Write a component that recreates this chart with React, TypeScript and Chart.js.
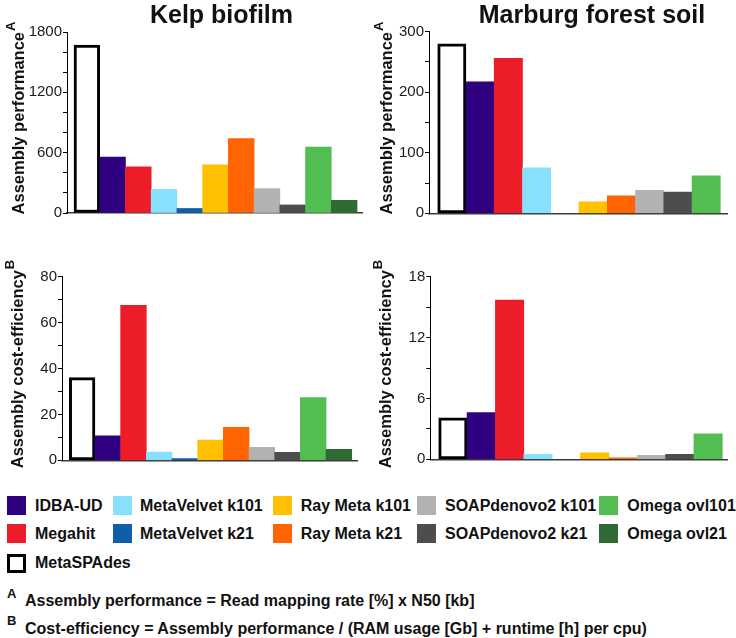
import React, { useEffect, useRef } from "react";
import { Chart, registerables } from "chart.js";

Chart.register(...registerables);

const FONT = '"Liberation Sans", Arial, Helvetica, sans-serif';

// ---------- data ----------
const assemblers = [
  "MetaSPAdes",
  "IDBA-UD",
  "Megahit",
  "MetaVelvet k101",
  "MetaVelvet k21",
  "Ray Meta k101",
  "Ray Meta k21",
  "SOAPdenovo2 k101",
  "SOAPdenovo2 k21",
  "Omega ovl101",
  "Omega ovl21",
];
const assemblerColors = [
  "#FFFFFF",
  "#2F007F",
  "#EC1C29",
  "#88E0FD",
  "#105DA8",
  "#FFC000",
  "#FF6400",
  "#B2B2B2",
  "#4D4D4D",
  "#52BD50",
  "#2E6A31",
];

const kelpPerformance = [1670, 555, 460, 235, 45, 480, 740, 242, 80, 656, 126];
const kelpCostEfficiency = [36, 10.7, 67.5, 3.6, 0.7, 8.8, 14.4, 5.7, 3.5, 27.3, 4.8];
const marburgPerformance = [280, 217, 256, 75, null, 19, 29, 38, 35, 62, null];
const marburgCostEfficiency = [4.1, 4.6, 15.7, 0.5, null, 0.65, 0.15, 0.4, 0.5, 2.5, null];

const kelpPerfTicks = [0, 600, 1200, 1800];
const kelpCostTicks = [0, 20, 40, 60, 80];
const marburgPerfTicks = [0, 100, 200, 300];
const marburgCostTicks = [0, 6, 12, 18];

const sampleTitles = ["Kelp biofilm", "Marburg forest soil"];
const performanceLabel = "Assembly performance";
const costLabel = "Assembly cost-efficiency";
const footnoteA = "Assembly performance = Read mapping rate [%] x N50 [kb]";
const footnoteB = "Cost-efficiency = Assembly performance / (RAM usage [Gb] + runtime [h] per cpu)";

// ---------- layout ----------
type Panel = {
  left: number;
  top: number;
  width: number;
  height: number;
  axisX: number;
  axisEnd: number;
  yTop: number;
  yBottom: number;
  xMin: number;
  xMax: number;
  values: (number | null)[];
  majorTicks: number[];
  minorStep: number;
  label: string;
  sup: string;
  labelX: number;
  labelY: number;
};

const panels: Panel[] = [
  {
    left: 0, top: 0, width: 368, height: 228,
    axisX: 67, axisEnd: 362, yTop: 32, yBottom: 213,
    xMin: -0.772, xMax: 10.694,
    values: kelpPerformance, majorTicks: kelpPerfTicks, minorStep: 200,
    label: performanceLabel, sup: "A", labelX: 19, labelY: 118,
  },
  {
    left: 368, top: 0, width: 368, height: 228,
    axisX: 429, axisEnd: 727, yTop: 31.7, yBottom: 213.3,
    xMin: -0.808, xMax: 9.737,
    values: marburgPerformance, majorTicks: marburgPerfTicks, minorStep: 50,
    label: performanceLabel, sup: "A", labelX: 19, labelY: 118,
  },
  {
    left: 0, top: 236, width: 368, height: 240,
    axisX: 62, axisEnd: 357, yTop: 276.7, yBottom: 460.3,
    xMin: -0.784, xMax: 10.706,
    values: kelpCostEfficiency, majorTicks: kelpCostTicks, minorStep: 10,
    label: costLabel, sup: "B", labelX: 18.5, labelY: 128,
  },
  {
    left: 368, top: 236, width: 368, height: 240,
    axisX: 430.3, axisEnd: 727, yTop: 276.7, yBottom: 459.3,
    xMin: -0.796, xMax: 9.666,
    values: marburgCostEfficiency, majorTicks: marburgCostTicks, minorStep: 3,
    label: costLabel, sup: "B", labelX: 18.5, labelY: 128,
  },
];

function PanelChart({ p }: { p: Panel }) {
  const ref = useRef<HTMLCanvasElement>(null);
  useEffect(() => {
    if (!ref.current) return;
    const labelPlugin = {
      id: "ytitleSup",
      afterDraw(chart: any) {
        const ctx = chart.ctx as CanvasRenderingContext2D;
        ctx.save();
        ctx.translate(p.labelX, p.labelY);
        ctx.rotate(-Math.PI / 2);
        ctx.fillStyle = "#111";
        ctx.textBaseline = "middle";
        ctx.textAlign = "left";
        const mainFont = `bold 16.5px ${FONT}`;
        const supFont = `bold 13px ${FONT}`;
        ctx.font = mainFont;
        const w = ctx.measureText(p.label).width;
        ctx.font = supFont;
        const sw = ctx.measureText(p.sup).width;
        const start = -(w + sw + 1) / 2;
        ctx.font = mainFont;
        ctx.fillText(p.label, start, 0);
        ctx.font = supFont;
        ctx.fillText(p.sup, start + w + 1, -8);
        ctx.restore();
      },
    };
    const yMax = p.majorTicks[p.majorTicks.length - 1];
    const chart = new Chart(ref.current, {
      type: "bar",
      data: {
        datasets: [
          {
            data: p.values.map((v, i) => ({ x: i, y: v })) as any,
            backgroundColor: assemblerColors,
            borderColor: assemblerColors.map((c, i) => (i === 0 ? "#000000" : c)),
            borderWidth: assemblerColors.map((_, i) => (i === 0 ? 3 : 0)),
            borderSkipped: false,
            barPercentage: 1,
            categoryPercentage: 1,
          },
        ],
      },
      options: {
        responsive: false,
        animation: false,
        devicePixelRatio: 1,
        layout: {
          padding: {
            left: 0,
            top: p.yTop - p.top,
            right: p.left + p.width - p.axisEnd,
            bottom: p.top + p.height - p.yBottom,
          },
        },
        plugins: {
          legend: { display: false },
          tooltip: { enabled: false },
          title: { display: false },
        },
        scales: {
          x: {
            type: "linear",
            offset: false,
            min: p.xMin,
            max: p.xMax,
            ticks: { display: false, stepSize: 1, includeBounds: false },
            grid: { display: false, offset: false },
            border: { display: true, color: "#3a3a3a", width: 1.5 },
            afterFit: (s: any) => {
              s.height = 0;
            },
          },
          y: {
            type: "linear",
            min: 0,
            max: yMax,
            ticks: {
              stepSize: p.minorStep,
              autoSkip: false,
              color: "#1a1a1a",
              font: { family: FONT, size: 15 },
              padding: 1,
              callback: (v: any) => (p.majorTicks.includes(Number(v)) ? String(v) : ""),
            },
            grid: {
              display: true,
              drawOnChartArea: false,
              drawTicks: true,
              tickLength: 4,
              tickColor: "#000",
              tickWidth: 1,
            },
            border: { display: true, color: "#000", width: 1 },
            afterFit: (s: any) => {
              s.width = p.axisX - p.left;
            },
          },
        },
      } as any,
      plugins: [labelPlugin],
    });
    return () => chart.destroy();
  }, [p]);
  return (
    <canvas
      ref={ref}
      width={p.width}
      height={p.height}
      style={{ position: "absolute", left: p.left, top: p.top, width: p.width, height: p.height }}
    />
  );
}

// legend placement
const legendSwatchX = [7.3, 112.7, 273.3, 417.3, 599.3];
const legendTextX = [35, 140, 300.7, 445, 627.3];
const legendRowY = [505.5, 533.8, 563.3];
const legendCell = [
  [0, 2], [0, 0], [0, 1], [1, 0], [1, 1], [2, 0], [2, 1], [3, 0], [3, 1], [4, 0], [4, 1],
];

export default function App() {
  const centered = (x: number, y: number, font: string): React.CSSProperties => ({
    position: "absolute",
    left: x,
    top: y,
    transform: "translate(-50%, -50%)",
    font,
    lineHeight: 1,
    whiteSpace: "nowrap",
    color: "#111",
  });
  const leftMid = (x: number, y: number, font: string): React.CSSProperties => ({
    position: "absolute",
    left: x,
    top: y,
    transform: "translateY(-50%)",
    font,
    lineHeight: 1,
    whiteSpace: "nowrap",
    color: "#111",
  });
  return (
    <div
      style={{
        position: "absolute",
        left: 0,
        top: 0,
        width: 736,
        height: 638,
        background: "#fff",
        overflow: "hidden",
        fontFamily: FONT,
      }}
    >
      {panels.map((p, i) => (
        <PanelChart key={i} p={p} />
      ))}
      <div style={centered(221.5, 13.5, `bold 25px ${FONT}`)}>{sampleTitles[0]}</div>
      <div style={centered(592, 13.5, `bold 25px ${FONT}`)}>{sampleTitles[1]}</div>

      {assemblers.map((name, i) => {
        const [col, row] = legendCell[i];
        const y = legendRowY[row];
        return (
          <React.Fragment key={name}>
            <div
              style={{
                position: "absolute",
                left: legendSwatchX[col],
                top: y - 9.5,
                width: 19,
                height: 19,
                boxSizing: "border-box",
                background: assemblerColors[i],
                border: i === 0 ? "3px solid #000" : "none",
              }}
            />
            <div style={leftMid(legendTextX[col], y, `bold 16px ${FONT}`)}>{name}</div>
          </React.Fragment>
        );
      })}

      <div style={leftMid(7, 593, `bold 13px ${FONT}`)}>A</div>
      <div style={leftMid(25, 600.5, `bold 16px ${FONT}`)}>{footnoteA}</div>
      <div style={leftMid(7, 620, `bold 13px ${FONT}`)}>B</div>
      <div style={leftMid(25, 629, `bold 16px ${FONT}`)}>{footnoteB}</div>
    </div>
  );
}
